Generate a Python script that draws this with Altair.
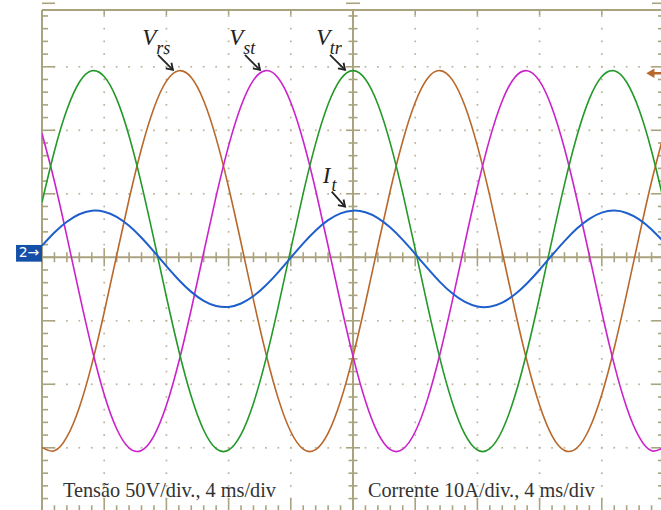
import altair as alt
import pandas as pd
import numpy as np

# ---------------- data ----------------
t_ms = [0.0, 0.8, 1.6, 2.4, 3.2, 4.0, 4.8, 5.6, 6.4, 7.2, 8.0, 8.8, 9.6, 10.4, 11.2,
        12.0, 12.8, 13.6, 14.4, 15.2, 16.0, 16.8, 17.6, 18.4, 19.2, 20.0, 20.8, 21.6,
        22.4, 23.2, 24.0, 24.8, 25.6, 26.4, 27.2, 28.0, 28.8, 29.6, 30.4, 31.2, 32.0,
        32.8, 33.6, 34.4, 35.2, 36.0, 36.8, 37.6, 38.4, 39.2, 40.0]

# line voltages (V), 50 V/div
v_rs = [-149.7, -152.4, -141.5, -118.2, -84.5, -43.3, 1.4, 45.7, 85.7, 117.6, 138.7,
        146.9, 141.6, 123.3, 93.6, 55.1, 11.4, -33.6, -75.8, -111.5, -137.4, -151.1,
        -151.5, -138.5, -113.2, -78.0, -36.0, 8.9, 52.8, 91.6, 121.9, 141.0, 147.0,
        139.5, 119.1, 87.7, 48.1, 3.9, -40.9, -82.3, -116.6, -140.6, -152.1, -150.2,
        -135.0, -108.0, -71.4, -28.6, 16.4, 59.7, 97.4]
v_st = [97.4, 59.7, 16.4, -28.6, -71.4, -108.0, -135.0, -150.2, -152.1, -140.6, -116.6,
        -82.3, -40.9, 3.9, 48.1, 87.7, 119.1, 139.5, 147.0, 141.0, 121.9, 91.6, 52.8,
        8.9, -36.0, -78.0, -113.2, -138.5, -151.5, -151.1, -137.4, -111.5, -75.8, -33.6,
        11.4, 55.1, 93.6, 123.3, 141.6, 146.9, 138.7, 117.6, 85.7, 45.7, 1.4, -43.3,
        -84.5, -118.2, -141.5, -152.4, -149.7]
v_tr = [43.4, 83.7, 116.1, 137.8, 146.8, 142.3, 124.7, 95.5, 57.4, 13.9, -31.1, -73.6,
        -109.7, -136.2, -150.7, -151.8, -139.5, -114.9, -80.2, -38.5, 6.4, 50.5, 89.7,
        120.5, 140.2, 147.0, 140.2, 120.5, 89.7, 50.5, 6.4, -38.5, -80.2, -114.9, -139.5,
        -151.8, -150.7, -136.2, -109.7, -73.6, -31.1, 13.9, 57.4, 95.5, 124.7, 142.3,
        146.8, 137.8, 116.1, 83.7, 43.4]
# line current (A), 10 A/div
i_t = [1.82, 3.90, 5.60, 6.78, 7.32, 7.18, 6.37, 4.96, 3.08, 0.90, -1.39, -3.57, -5.45,
       -6.86, -7.68, -7.82, -7.28, -6.11, -4.41, -2.33, -0.06, 2.18, 4.21, 5.84, 6.92,
       7.34, 7.09, 6.17, 4.67, 2.73, 0.52, -1.76, -3.91, -5.72, -7.04, -7.75, -7.78,
       -7.13, -5.86, -4.08, -1.96, 0.32, 2.54, 4.52, 6.06, 7.03, 7.35, 6.98, 5.96, 4.37,
       2.37]

V_PER_DIV = 50.0
A_PER_DIV = 10.0
MS_PER_DIV = 4.0

series_names = ["Vrs", "Vst", "Vtr"]
series_colors = ["#b9682c", "#cc22cc", "#23992a"]
current_color = "#1f5fcc"

major_x_ms = [0, 4, 8, 12, 16, 20, 24, 28, 32, 36, 40]
major_y_div = [-4, -3, -2, -1, 0, 1, 2, 3, 4]

labels_main = ["V", "V", "V", "I"]
labels_sub = ["rs", "st", "tr", "t"]
label_x_ms = [6.45, 12.04, 17.63, 18.05]
label_y_div = [3.344, 3.344, 3.344, 1.17]
sub_x_ms = [7.35, 12.94, 18.50, 18.62]
sub_y_div = [3.200, 3.200, 3.200, 1.04]
arrow_x = [7.46, 13.05, 18.52, 18.63]
arrow_y = [3.186, 3.186, 3.186, 1.033]
arrow_x2 = [8.42, 14.02, 19.49, 19.49]
arrow_y2 = [2.95, 2.95, 2.95, 0.797]

caption_text = ["Tensão 50V/div., 4 ms/div", "Corrente 10A/div., 4 ms/div"]
caption_x_ms = [1.35, 20.96]
caption_y_div = [-3.78, -3.78]

SERIF = "Liberation Serif, Times New Roman, DejaVu Serif, serif"

# ---------------- tables ----------------
rows = []
for name, vals in zip(series_names, [v_rs, v_st, v_tr]):
    for t, v in zip(t_ms, vals):
        rows.append({"t": t, "d": v / V_PER_DIV, "s": name})
volt_df = pd.DataFrame(rows)
cur_df = pd.DataFrame({"t": t_ms, "d": [a / A_PER_DIV for a in i_t]})

minor_x = [round(v, 3) for v in np.arange(0, 40.01, MS_PER_DIV / 5)]
minor_y = [round(v, 3) for v in np.arange(-4, 4.01, 0.2)]

dots = []
for xm in major_x_ms:
    if xm in (0, 20, 40):
        continue
    for yv in minor_y:
        if -3.99 < yv < 3.99:
            dots.append({"t": xm, "d": yv})
for ym in major_y_div:
    if ym in (-4, 0, 4):
        continue
    for xv in minor_x:
        if 0 < xv < 40 and abs(xv - 20) > 0.01:
            dots.append({"t": xv, "d": ym})
dots_df = pd.DataFrame(dots)

XDOM = [0, 619 / 62.2 * MS_PER_DIV]
YDOM = [-3.98, 3.894]
xs = alt.Scale(domain=XDOM, nice=False, zero=False)
ys = alt.Scale(domain=YDOM, nice=False, zero=False)
X = lambda f="t": alt.X(f"{f}:Q", scale=xs, axis=None)
Y = lambda f="d": alt.Y(f"{f}:Q", scale=ys, axis=None)

FRAME = "#aaa37f"

dots_layer = alt.Chart(dots_df).mark_square(size=3, color="#bbb69b", opacity=1).encode(x=X(), y=Y())

vlines = pd.DataFrame({"t": [0, 20], "d": [-4, -4], "d2": [YDOM[1], YDOM[1]]})
hlines = pd.DataFrame({"t": [0, 0, 0], "t2": [40, 40, 40], "d": [0, YDOM[1], -4]})
vline_layer = alt.Chart(vlines).mark_rule(color=FRAME, strokeWidth=2).encode(
    x=X(), y=Y(), y2="d2:Q")
hline_layer = alt.Chart(hlines).mark_rule(color=FRAME, strokeWidth=2).encode(
    x=X(), x2="t2:Q", y=Y())

def hticks(xpos, yvals, size, xoff):
    df = pd.DataFrame({"t": [xpos] * len(yvals), "d": yvals})
    return alt.Chart(df).mark_tick(orient="horizontal", size=size, thickness=1.6,
                                   color=FRAME, xOffset=xoff, opacity=1).encode(x=X(), y=Y())

def vticks(ypos, xvals, size, yoff):
    df = pd.DataFrame({"t": xvals, "d": [ypos] * len(xvals)})
    return alt.Chart(df).mark_tick(orient="vertical", size=size, thickness=1.6,
                                   color=FRAME, yOffset=yoff, opacity=1).encode(x=X(), y=Y())

minor_y_only = [v for v in minor_y if abs(v - round(v)) > 0.01]
minor_x_only = [v for v in minor_x if abs(v / 4 - round(v / 4)) > 0.01]

tick_layers = [
    hticks(0, minor_y_only, 6, 3), hticks(0, major_y_div, 13, 6.5),
    hticks(40, minor_y_only, 6, -3), hticks(40, major_y_div, 12, -6),
    hticks(20, minor_y_only, 9, 0), hticks(20, major_y_div, 14, 0),
    vticks(0, minor_x_only, 10, 0), vticks(0, major_x_ms, 18, 0),
    vticks(-4, minor_x_only, 6, -3), vticks(-4, major_x_ms, 13, -6.5),
    vticks(YDOM[1], major_x_ms, 5, 2.5),
]

volt_layer = alt.Chart(volt_df).mark_line(interpolate="natural", strokeWidth=1.6, clip=True).encode(
    x=X(), y=Y(),
    color=alt.Color("s:N", scale=alt.Scale(domain=series_names, range=series_colors), legend=None),
    detail="s:N")
cur_layer = alt.Chart(cur_df).mark_line(interpolate="natural", strokeWidth=2, clip=True,
                                        color=current_color).encode(x=X(), y=Y())

lab_df = pd.DataFrame({"t": label_x_ms, "d": label_y_div, "txt": labels_main})
sub_df = pd.DataFrame({"t": sub_x_ms, "d": sub_y_div, "txt": labels_sub})
lab_layer = alt.Chart(lab_df).mark_text(align="left", baseline="alphabetic", font=SERIF,
                                        fontStyle="italic", fontSize=23, color="#222222").encode(
    x=X(), y=Y(), text="txt:N")
sub_layer = alt.Chart(sub_df).mark_text(align="left", baseline="alphabetic", font=SERIF,
                                        fontStyle="italic", fontSize=18, color="#222222").encode(
    x=X(), y=Y(), text="txt:N")

arr_df = pd.DataFrame({"t": arrow_x, "d": arrow_y, "t2": arrow_x2, "d2": arrow_y2})
arr_layer = alt.Chart(arr_df).mark_rule(color="#222222", strokeWidth=1.8).encode(
    x=X(), y=Y(), x2="t2:Q", y2="d2:Q")
head_layer = alt.Chart(arr_df).mark_point(shape="M-1,-0.65L0,0L-1,0.65", size=150, angle=45,
                                          filled=False, color="#222222", strokeWidth=1.8,
                                          opacity=1).encode(x=X("t2"), y=Y("d2"))

cap_df = pd.DataFrame({"t": caption_x_ms, "d": caption_y_div, "txt": caption_text})
cap_layer = alt.Chart(cap_df).mark_text(align="left", baseline="alphabetic", font=SERIF,
                                        fontSize=20.3, color="#333333").encode(
    x=X(), y=Y(), text="txt:N")

# channel-2 ground marker and trigger level marker
marker_df = pd.DataFrame({"t": [-1.67], "t2": [0.0], "d": [0.194], "d2": [-0.069]})
marker_box = alt.Chart(marker_df).mark_rect(color="#1450a8").encode(
    x=X(), x2="t2:Q", y=Y(), y2="d2:Q")
marker_txt = alt.Chart(pd.DataFrame({"t": [-0.84], "d": [0.062], "txt": ["2→"]})).mark_text(
    font="DejaVu Sans", fontSize=14, color="white", align="center", baseline="middle").encode(
    x=X(), y=Y(), text="txt:N")

trig_df = pd.DataFrame({"t": [39.12], "t2": [39.81], "d": [2.898]})
trig_line = alt.Chart(trig_df).mark_rule(color="#b9682c", strokeWidth=2.5).encode(x=X(), x2="t2:Q", y=Y())
trig_head = alt.Chart(trig_df).mark_point(shape="triangle-left", size=90, filled=True,
                                          color="#b9682c", opacity=1).encode(x=X(), y=Y())

chart = alt.layer(
    dots_layer, vline_layer, hline_layer, *tick_layers,
    volt_layer, cur_layer,
    lab_layer, sub_layer, arr_layer, head_layer, cap_layer,
    marker_box, marker_txt, trig_line, trig_head,
).properties(
    width=619, height=500,
    padding={"left": 42, "top": 10, "right": 0, "bottom": 0},
    autosize=alt.AutoSizeParams(type="none"),
    background="white",
).configure_view(stroke=None)

chart.save("out.html", embed_options={"renderer": "svg", "actions": False})
